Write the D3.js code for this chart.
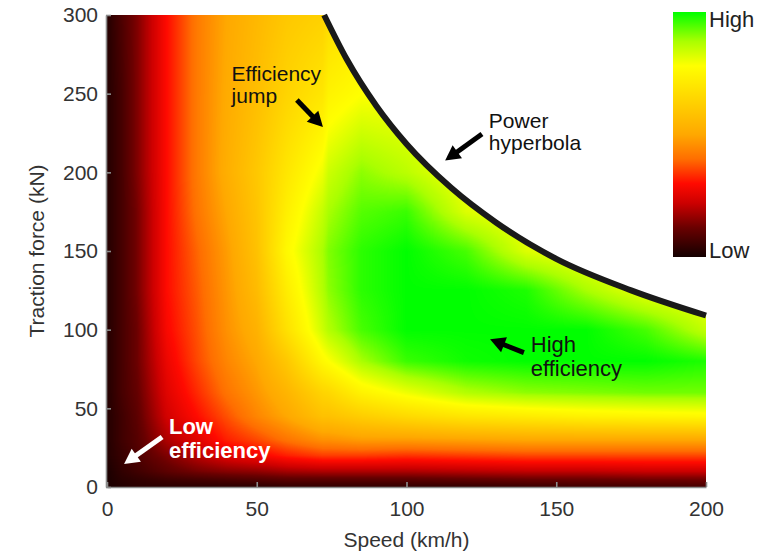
<!DOCTYPE html>
<html lang="en">
<head>
<meta charset="UTF-8">
<title>Traction efficiency map</title>
<script src="https://d3js.org/d3.v7.min.js"></script>
<style>
  body { margin: 0; background: #fff; }
  svg { display: block; font-family: "Liberation Sans", Arial, Helvetica, sans-serif; }
  .tick text { font-size: 21px; fill: #333; }
  .domain, .tick line { stroke: #8c8c8c; stroke-width: 1.6px; }
</style>
</head>
<body>
<svg width="777" height="552"></svg>
<script>
// efficiency map, 0 = low ... 1 = high
const speeds = [0, 5, 10, 20, 30, 40, 50, 60, 72, 74, 85, 100, 120, 140, 160, 180, 200];
const forces = [0, 5, 10, 20, 30, 45, 60, 80, 100, 125, 150, 175, 200, 250, 300];
const efficiency = [
  [.01, .02, .03, .03, .03, .03, .03, .04, .04, .04, .04, .04, .04, .05, .06, .06, .07],
  [.01, .03, .04, .06, .07, .08, .09, .10, .10, .10, .10, .10, .11, .12, .12, .13, .13],
  [.01, .04, .06, .10, .13, .15, .16, .18, .19, .19, .19, .19, .20, .21, .21, .22, .22],
  [.02, .05, .08, .14, .20, .25, .28, .32, .35, .35, .35, .34, .35, .36, .36, .36, .36],
  [.02, .06, .09, .19, .25, .32, .36, .41, .46, .46, .48, .48, .49, .50, .50, .50, .50],
  [.02, .06, .10, .23, .30, .37, .44, .50, .58, .58, .62, .66, .70, .72, .74, .75, .76],
  [.02, .07, .11, .25, .33, .41, .47, .54, .64, .65, .74, .80, .87, .90, .91, .92, .92],
  [.02, .07, .12, .27, .36, .44, .50, .60, .76, .78, .88, .96, .99, 1.0, 1.0, 1.0, .98],
  [.02, .07, .12, .29, .37, .46, .53, .68, .84, .87, .95, 1.0, 1.0, 1.0, 1.0, .95, .85],
  [.02, .07, .13, .30, .38, .47, .56, .72, .87, .90, .97, 1.0, 1.0, .98, .88, .80, .78],
  [.02, .07, .13, .30, .39, .48, .58, .76, .88, .91, .97, 1.0, .95, .82, .78, .78, .78],
  [.02, .07, .13, .30, .41, .50, .59, .73, .85, .88, .94, .96, .82, .78, .78, .78, .78],
  [.02, .07, .14, .30, .42, .52, .60, .70, .80, .84, .90, .86, .78, .78, .78, .78, .78],
  [.02, .07, .14, .30, .42, .51, .57, .64, .70, .74, .78, .78, .78, .78, .78, .78, .78],
  [.02, .08, .14, .30, .42, .50, .55, .60, .63, .66, .70, .72, .72, .72, .72, .72, .72]
];

// power hyperbola
const hyperSpeed = [72.5, 80, 90, 100, 115, 130, 150, 175, 200];
const hyperForce = [300, 272, 242, 218, 190, 168, 145, 125, 109];

const xTicks = [0, 50, 100, 150, 200];
const yTicks = [0, 50, 100, 150, 200, 250, 300];

const cmapStops = [0, 0.12, 0.22, 0.30, 0.40, 0.50, 0.64, 0.78, 0.88, 1];
const cmapColors = ["#140000", "#6a0000", "#cc0000", "#ff0a00", "#ff6e00", "#ffa800", "#ffd400", "#ffff00", "#aaff00", "#00ff00"];

const svg = d3.select("svg");
const x = d3.scaleLinear().domain([0, 200]).range([107, 706]);
const y = d3.scaleLinear().domain([0, 300]).range([487, 15]);
const colormap = d3.scaleLinear().domain(cmapStops).range(cmapColors).clamp(true);

// heatmap on a canvas, bilinear between the grid nodes
const W = x.range()[1] - x.range()[0], H = y.range()[0] - y.range()[1];
const canvas = document.createElement("canvas");
canvas.width = W; canvas.height = H;
const ctx = canvas.getContext("2d");
const img = ctx.createImageData(W, H);
const lut = d3.range(501).map(k => d3.rgb(colormap(k / 500)));
const si = d3.scaleLinear().domain(speeds).range(d3.range(speeds.length)).clamp(true);
const fi = d3.scaleLinear().domain(forces).range(d3.range(forces.length)).clamp(true);
for (let j = 0; j < H; j++) {
  const a = fi(y.invert(y.range()[1] + j + 0.5));
  const r = Math.min(Math.floor(a), forces.length - 2), ty = a - r;
  for (let i = 0; i < W; i++) {
    const b = si(x.invert(x.range()[0] + i + 0.5));
    const c = Math.min(Math.floor(b), speeds.length - 2), tx = b - c;
    const e = (1 - ty) * ((1 - tx) * efficiency[r][c] + tx * efficiency[r][c + 1]) +
              ty * ((1 - tx) * efficiency[r + 1][c] + tx * efficiency[r + 1][c + 1]);
    const col = lut[Math.round(Math.max(0, Math.min(1, e)) * 500)];
    const p = (j * W + i) * 4;
    img.data[p] = col.r; img.data[p + 1] = col.g; img.data[p + 2] = col.b; img.data[p + 3] = 255;
  }
}
ctx.putImageData(img, 0, 0);

const hyperPts = hyperSpeed.map((v, i) => [x(v), y(hyperForce[i])]);
const hyperLine = d3.line().curve(d3.curveMonotoneX)(hyperPts);

svg.append("clipPath").attr("id", "under")
  .append("path")
  .attr("d", `M${x(0)},${y(300)}L` + hyperLine.slice(1) + `L${x(200)},${y(0)}L${x(0)},${y(0)}Z`);

svg.append("image")
  .attr("x", x.range()[0]).attr("y", y.range()[1])
  .attr("width", W).attr("height", H)
  .attr("preserveAspectRatio", "none")
  .attr("href", canvas.toDataURL())
  .attr("clip-path", "url(#under)");

// axes, ticks pointing inwards
svg.append("g")
  .attr("transform", `translate(0,${y(0)})`)
  .call(d3.axisBottom(x).tickValues(xTicks).tickSizeInner(-5).tickSizeOuter(0).tickPadding(14));
svg.append("g")
  .attr("transform", `translate(${x(0) - 1},0)`)
  .call(d3.axisLeft(y).tickValues(yTicks).tickSizeInner(-5).tickSizeOuter(0).tickPadding(8));

svg.append("path")
  .attr("d", hyperLine)
  .attr("fill", "none")
  .attr("stroke", "#1a1a1a")
  .attr("stroke-width", 6);

svg.append("text")
  .attr("x", x(100)).attr("y", 547)
  .attr("text-anchor", "middle")
  .attr("font-size", 21).attr("fill", "#333")
  .text("Speed (km/h)");
svg.append("text")
  .attr("transform", `translate(44,${y(150)}) rotate(-90)`)
  .attr("text-anchor", "middle")
  .attr("font-size", 21).attr("fill", "#333")
  .text("Traction force (kN)");

// colour bar
const bar = { x: 673, y: 12, w: 33, h: 245 };
const grad = svg.append("defs").append("linearGradient")
  .attr("id", "cbar").attr("x1", 0).attr("y1", 1).attr("x2", 0).attr("y2", 0);
grad.selectAll("stop").data(cmapStops).join("stop")
  .attr("offset", d => d)
  .attr("stop-color", (d, i) => cmapColors[i]);
svg.append("rect")
  .attr("x", bar.x).attr("y", bar.y).attr("width", bar.w).attr("height", bar.h)
  .attr("fill", "url(#cbar)");
svg.append("text").attr("x", bar.x + bar.w + 3).attr("y", bar.y + 15)
  .attr("font-size", 22).attr("fill", "#222").text("High");
svg.append("text").attr("x", bar.x + bar.w + 3).attr("y", bar.y + bar.h + 1)
  .attr("font-size", 22).attr("fill", "#222").text("Low");

// annotations (speed, force positions)
const notes = [
  { lines: ["Efficiency", "jump"], at: [41.6, 258], size: 21, lead: 21.5, color: "#111", weight: "normal" },
  { lines: ["Power", "hyperbola"], at: [127.5, 228], size: 21, lead: 21.5, color: "#111", weight: "normal" },
  { lines: ["High", "efficiency"], at: [141.5, 85.5], size: 22, lead: 24, color: "#111", weight: "normal" },
  { lines: ["Low", "efficiency"], at: [20.7, 34.0], size: 22, lead: 24.5, color: "#fff", weight: "bold" }
];
const arrows = [
  { from: [63.4, 246], to: [72.1, 228.8], color: "#000" },
  { from: [125.2, 224.4], to: [112.9, 207.5], color: "#000" },
  { from: [139.2, 85.4], to: [127.9, 93.9], color: "#000" },
  { from: [18.4, 31.8], to: [5.7, 14.6], color: "#fff" }
];

notes.forEach(n => {
  const t = svg.append("text")
    .attr("x", x(n.at[0])).attr("y", y(n.at[1]))
    .attr("font-size", n.size).attr("fill", n.color).attr("font-weight", n.weight);
  n.lines.forEach((s, i) => t.append("tspan").attr("x", x(n.at[0])).attr("dy", i ? n.lead : 0).text(s));
});

arrows.forEach(a => {
  const x0 = x(a.from[0]), y0 = y(a.from[1]), x1 = x(a.to[0]), y1 = y(a.to[1]);
  const len = Math.hypot(x1 - x0, y1 - y0), ux = (x1 - x0) / len, uy = (y1 - y0) / len;
  const hl = 15, hw = 8;
  const bx = x1 - ux * hl, by = y1 - uy * hl;
  svg.append("line")
    .attr("x1", x0).attr("y1", y0).attr("x2", bx + ux * 2).attr("y2", by + uy * 2)
    .attr("stroke", a.color).attr("stroke-width", 5);
  svg.append("path")
    .attr("d", `M${x1},${y1}L${bx - uy * hw},${by + ux * hw}L${bx + uy * hw},${by - ux * hw}Z`)
    .attr("fill", a.color);
});
</script>
</body>
</html>
